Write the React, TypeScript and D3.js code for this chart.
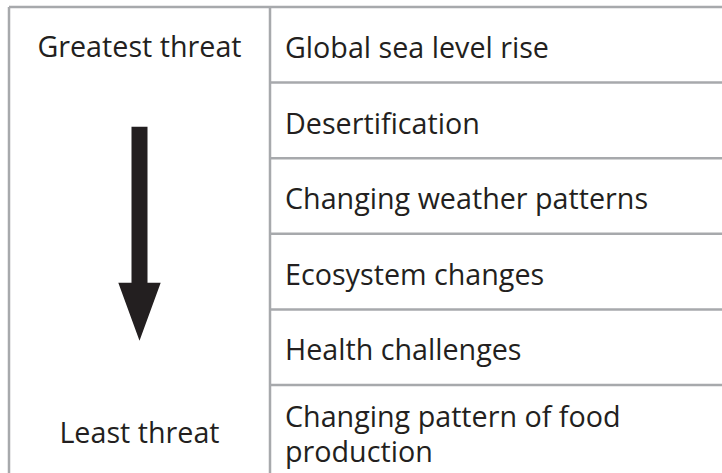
import React, { useEffect, useRef } from "react";
import * as d3 from "d3";

// ranked from greatest to least threat
const threats = [
  ["Global sea level rise"],
  ["Desertification"],
  ["Changing weather patterns"],
  ["Ecosystem changes"],
  ["Health challenges"],
  ["Changing pattern of food", "production"],
];
const topLabel = "Greatest threat";
const bottomLabel = "Least threat";

export default function App() {
  const ref = useRef<SVGSVGElement>(null);

  useEffect(() => {
    const width = 722;
    const height = 473;
    const left = 9;
    const split = 270;
    const top = 7;
    const rowH = 75.6;
    const ink = "#231f20";
    const grid = "#a7a9ac";

    const svg = d3.select(ref.current);
    svg.selectAll("*").remove();

    // row index -> top edge of the row
    const y = d3.scaleLinear().domain([0, 1]).range([top, top + rowH]);
    const bottom = y(threats.length) + 20;

    const g = svg.append("g")
      .style("font-family", "'Open Sans', sans-serif")
      .style("font-size", "28.7px")
      .attr("fill", ink);

    // outer + column lines
    g.append("line").attr("x1", left).attr("x2", width + 5).attr("y1", top).attr("y2", top)
      .attr("stroke", grid).attr("stroke-width", 2.5);
    g.append("line").attr("x1", left).attr("x2", left).attr("y1", top).attr("y2", bottom)
      .attr("stroke", grid).attr("stroke-width", 2.5);
    g.append("line").attr("x1", split).attr("x2", split).attr("y1", top).attr("y2", bottom)
      .attr("stroke", grid).attr("stroke-width", 2.5);

    // row separators in the right column
    g.selectAll("line.row")
      .data(d3.range(1, threats.length))
      .enter()
      .append("line")
      .attr("class", "row")
      .attr("x1", split).attr("x2", width + 5)
      .attr("y1", d => y(d)).attr("y2", d => y(d))
      .attr("stroke", grid).attr("stroke-width", 2.5);

    // threat labels
    const rows = g.selectAll("text.threat")
      .data(threats)
      .enter()
      .append("text")
      .attr("class", "threat")
      .attr("x", split + 15)
      .attr("y", (d, i) => d.length > 1 ? y(i) + 42 : y(i) + 51);
    rows.selectAll("tspan")
      .data(d => d)
      .enter()
      .append("tspan")
      .attr("x", split + 15)
      .attr("dy", (d, i) => i === 0 ? 0 : 35)
      .text(d => d);

    const cx = (left + split) / 2;
    g.append("text").attr("x", cx).attr("y", top + 50)
      .attr("text-anchor", "middle").text(topLabel);
    g.append("text").attr("x", cx).attr("y", y(threats.length - 1) + 58)
      .attr("text-anchor", "middle").text(bottomLabel);

    // arrow
    const sw = 8, hw = 21.2;
    const y0 = 126.7, yh = 282.7, yt = 340.7;
    const p = d3.path();
    p.moveTo(cx - sw, y0);
    p.lineTo(cx + sw, y0);
    p.lineTo(cx + sw, yh);
    p.lineTo(cx + hw, yh);
    p.lineTo(cx, yt);
    p.lineTo(cx - hw, yh);
    p.lineTo(cx - sw, yh);
    p.closePath();
    g.append("path").attr("d", p.toString()).attr("fill", ink);

    svg.attr("width", width).attr("height", height);
  }, []);

  return (
    <svg ref={ref} width={722} height={473}
      style={{ position: "absolute", left: 0, top: 0, background: "#fff" }} />
  );
}
